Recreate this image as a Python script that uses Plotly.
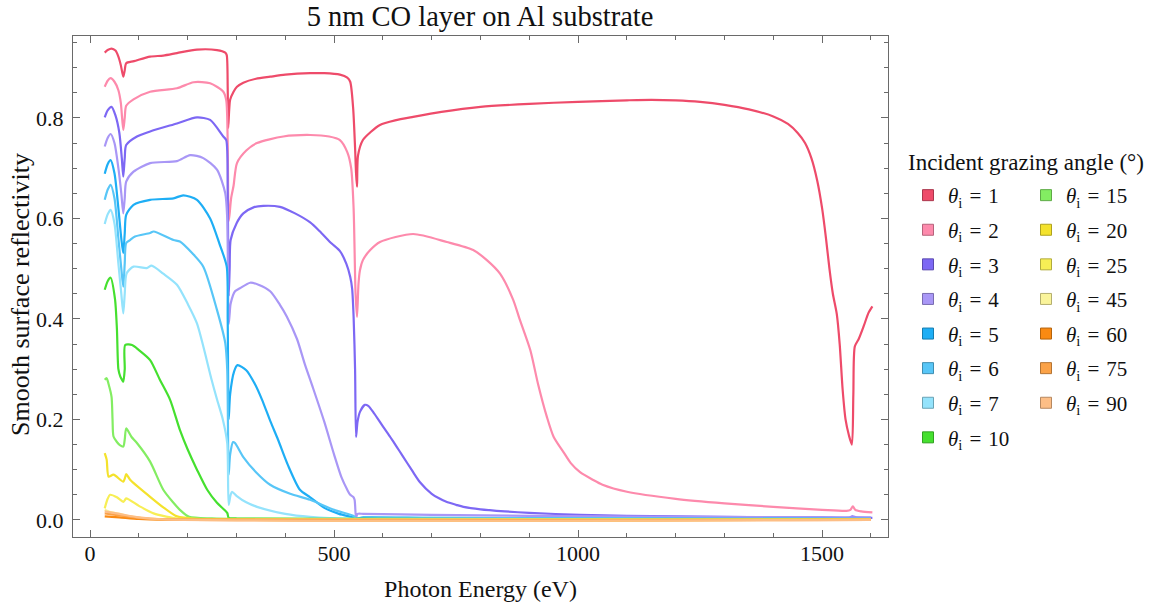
import plotly.graph_objects as go

# ---------------- data ----------------
angles = [1, 2, 3, 4, 5, 6, 7, 10, 15, 20, 25, 45, 60, 75, 90]
colors = ["#EE4B6A", "#FD8AAC", "#7D68F4", "#A997F6", "#1EAEF5", "#58C6F7", "#94E3FC",
          "#45E02F", "#83ED62", "#F4E22C", "#F7EE55", "#FAF49B", "#FA8A12", "#FBA247", "#FDBE86"]

E1 = [30, 36, 44, 52, 58, 63, 68, 71, 74, 90, 123, 150, 178, 219, 260, 277, 280, 282, 283, 285, 287,
      294, 301, 314, 340, 369, 400, 451, 480, 512, 527, 533, 539, 543, 545, 547, 549, 559, 575, 594,
      625, 662, 720, 800, 900, 1000, 1100, 1150, 1200, 1250, 1300, 1350, 1400, 1430, 1450, 1465, 1478,
      1490, 1500, 1508, 1515, 1522, 1530, 1536, 1542, 1548, 1555, 1561, 1564, 1567, 1575, 1585, 1595, 1603]
R1 = [0.930, 0.935, 0.938, 0.934, 0.922, 0.905, 0.882, 0.895, 0.909, 0.913, 0.922, 0.924, 0.929, 0.936,
      0.935, 0.930, 0.925, 0.860, 0.780, 0.815, 0.836, 0.852, 0.862, 0.870, 0.878, 0.882, 0.886, 0.889,
      0.889, 0.886, 0.880, 0.872, 0.820, 0.740, 0.690, 0.663, 0.725, 0.756, 0.772, 0.786, 0.795, 0.802,
      0.812, 0.822, 0.828, 0.832, 0.835, 0.836, 0.835, 0.832, 0.826, 0.817, 0.803, 0.788, 0.770, 0.750,
      0.720, 0.675, 0.620, 0.560, 0.500, 0.450, 0.410, 0.350, 0.260, 0.200, 0.168, 0.150, 0.250, 0.345,
      0.360, 0.385, 0.412, 0.425]

E2 = [30, 36, 42, 50, 58, 63, 68, 71, 74, 89, 123, 178, 212, 246, 273, 279, 282, 284, 286, 289, 294,
      301, 320, 342, 396, 451, 490, 512, 527, 535, 540, 544, 547, 550, 553, 559, 574, 594, 662, 731,
      785, 813, 840, 867, 880, 902, 918, 936, 950, 970, 985, 1004, 1030, 1050, 1100, 1200, 1300, 1400,
      1500, 1550, 1558, 1563, 1568, 1580, 1603]
R2 = [0.862, 0.874, 0.879, 0.872, 0.855, 0.830, 0.776, 0.800, 0.824, 0.837, 0.852, 0.859, 0.871, 0.869,
      0.852, 0.835, 0.750, 0.595, 0.610, 0.640, 0.665, 0.710, 0.735, 0.750, 0.763, 0.766, 0.763, 0.756,
      0.732, 0.700, 0.620, 0.450, 0.404, 0.470, 0.497, 0.517, 0.537, 0.553, 0.569, 0.553, 0.537, 0.517,
      0.490, 0.438, 0.400, 0.338, 0.270, 0.205, 0.165, 0.135, 0.113, 0.095, 0.080, 0.070, 0.056, 0.042,
      0.033, 0.026, 0.020, 0.018, 0.020, 0.027, 0.020, 0.017, 0.015]

E3 = [30, 36, 44, 52, 60, 65, 68, 71, 74, 96, 123, 178, 219, 246, 273, 279, 282, 284, 286, 288, 300,
      314, 335, 355, 389, 420, 451, 470, 495, 512, 525, 533, 537, 540, 543, 545, 548, 553, 563, 570,
      582, 600, 615, 628, 640, 660, 676, 700, 715, 730, 750, 765, 800, 850, 900, 1004, 1100, 1200, 1300,
      1400, 1500, 1555, 1562, 1570, 1603]
R3 = [0.801, 0.815, 0.822, 0.805, 0.770, 0.720, 0.683, 0.720, 0.746, 0.763, 0.773, 0.789, 0.801, 0.796,
      0.763, 0.756, 0.650, 0.445, 0.500, 0.557, 0.590, 0.610, 0.622, 0.625, 0.623, 0.610, 0.592, 0.575,
      0.550, 0.535, 0.510, 0.484, 0.460, 0.404, 0.300, 0.165, 0.195, 0.215, 0.229, 0.227, 0.212, 0.186,
      0.165, 0.146, 0.128, 0.098, 0.075, 0.052, 0.043, 0.036, 0.030, 0.026, 0.021, 0.017, 0.014, 0.010,
      0.008, 0.007, 0.006, 0.005, 0.005, 0.004, 0.007, 0.005, 0.004]

E4 = [30, 36, 42, 50, 58, 64, 68, 71, 74, 89, 123, 178, 205, 232, 260, 277, 281, 284, 286, 288, 297,
      307, 328, 345, 369, 389, 403, 424, 440, 457, 480, 500, 515, 527, 533, 539, 542, 545, 548, 560,
      700, 900, 1200, 1600]
R4 = [0.743, 0.760, 0.768, 0.750, 0.700, 0.650, 0.610, 0.640, 0.673, 0.693, 0.710, 0.714, 0.726, 0.720,
      0.697, 0.650, 0.600, 0.390, 0.410, 0.430, 0.455, 0.461, 0.472, 0.468, 0.455, 0.428, 0.405, 0.360,
      0.310, 0.262, 0.195, 0.130, 0.085, 0.060, 0.050, 0.046, 0.040, 0.004, 0.012, 0.012, 0.010, 0.008,
      0.006, 0.005]

E5 = [30, 36, 42, 50, 58, 64, 68, 71, 74, 89, 123, 171, 191, 219, 246, 265, 280, 282, 284, 287, 295,
      302, 320, 338, 352, 370, 385, 405, 430, 451, 480, 510, 540, 545, 560, 700, 1000, 1600]
R5 = [0.689, 0.708, 0.716, 0.690, 0.620, 0.560, 0.531, 0.570, 0.607, 0.627, 0.637, 0.640, 0.646, 0.637,
      0.600, 0.550, 0.504, 0.400, 0.200, 0.250, 0.295, 0.308, 0.298, 0.270, 0.240, 0.195, 0.160, 0.110,
      0.060, 0.045, 0.024, 0.012, 0.005, 0.003, 0.005, 0.004, 0.003, 0.002]

E6 = [30, 36, 42, 50, 58, 64, 68, 71, 74, 82, 92, 123, 130, 171, 184, 210, 232, 260, 277, 281, 284,
      287, 293, 297, 314, 340, 369, 410, 451, 500, 540, 545, 600, 1000, 1600]
R6 = [0.637, 0.657, 0.667, 0.640, 0.560, 0.500, 0.464, 0.510, 0.551, 0.557, 0.564, 0.571, 0.574, 0.557,
      0.554, 0.530, 0.504, 0.418, 0.352, 0.300, 0.090, 0.130, 0.155, 0.153, 0.125, 0.095, 0.070, 0.052,
      0.040, 0.020, 0.008, 0.003, 0.004, 0.003, 0.002]

E7 = [30, 36, 42, 50, 58, 64, 68, 71, 75, 89, 116, 126, 150, 178, 200, 219, 249, 260, 272, 281, 284,
      288, 291, 300, 320, 342, 400, 451, 545, 1600]
R7 = [0.589, 0.608, 0.617, 0.590, 0.510, 0.450, 0.411, 0.450, 0.491, 0.504, 0.501, 0.506, 0.490, 0.468,
      0.430, 0.391, 0.279, 0.240, 0.200, 0.153, 0.030, 0.050, 0.056, 0.048, 0.035, 0.026, 0.012, 0.006,
      0.002, 0.001]

E10 = [30, 36, 42, 51, 55, 58, 62, 66, 68, 71, 72, 86, 100, 123, 143, 164, 184, 200, 219, 240, 260,
       281, 284, 300, 600, 1600]
R10 = [0.458, 0.475, 0.482, 0.440, 0.380, 0.300, 0.285, 0.278, 0.275, 0.300, 0.348, 0.348, 0.338, 0.318,
       0.279, 0.239, 0.179, 0.140, 0.100, 0.060, 0.034, 0.014, 0.004, 0.003, 0.002, 0.001]

E15 = [30, 34, 38, 44, 46, 48, 55, 61, 68, 71, 74, 85, 96, 123, 150, 170, 184, 203, 250, 300, 1600]
R15 = [0.279, 0.282, 0.270, 0.245, 0.200, 0.166, 0.155, 0.149, 0.146, 0.160, 0.182, 0.165, 0.153, 0.116,
       0.060, 0.035, 0.020, 0.006, 0.003, 0.002, 0.001]

E20 = [30, 34, 38, 48, 68, 71, 74, 82, 123, 150, 178, 220, 1600]
R20 = [0.133, 0.120, 0.086, 0.090, 0.076, 0.082, 0.091, 0.080, 0.046, 0.025, 0.007, 0.002, 0.001]

E25 = [30, 36, 41, 55, 68, 71, 74, 100, 130, 184, 250, 1600]
R25 = [0.023, 0.042, 0.050, 0.045, 0.036, 0.039, 0.043, 0.028, 0.013, 0.002, 0.001, 0.0005]

E45 = [30, 40, 60, 80, 110, 150, 1600]
R45 = [0.020, 0.016, 0.012, 0.007, 0.003, 0.001, 0.0]

E60 = [30, 60, 100, 150, 1600]
R60 = [0.007, 0.005, 0.002, 0.0005, 0.0]

E75 = [30, 60, 100, 150, 1600]
R75 = [0.013, 0.009, 0.004, 0.001, 0.0]

E90 = [30, 60, 100, 150, 1600]
R90 = [0.017, 0.012, 0.005, 0.001, 0.0]

energies = [E1, E2, E3, E4, E5, E6, E7, E10, E15, E20, E25, E45, E60, E75, E90]
reflect = [R1, R2, R3, R4, R5, R6, R7, R10, R15, R20, R25, R45, R60, R75, R90]

x_ticks = [0, 500, 1000, 1500]
y_ticks = [0.0, 0.2, 0.4, 0.6, 0.8]

# ---------------- styling ----------------
FONT = "Liberation Serif"
FRAME = "#6a6a6a"


def darken(hex_color, f=0.72):
    h = hex_color.lstrip("#")
    r, g, b = (int(h[i:i + 2], 16) for i in (0, 2, 4))
    return "#%02x%02x%02x" % (int(r * f), int(g * f), int(b * f))


fig = go.Figure()
for E, R, c in zip(energies, reflect, colors):
    fig.add_trace(go.Scatter(x=E, y=R, mode="lines",
                             line=dict(color=c, width=2.2, shape="spline", smoothing=0.7),
                             showlegend=False, hoverinfo="skip"))

for i, (a, c) in enumerate(zip(angles, colors)):
    fig.add_trace(go.Scatter(
        x=[None], y=[None], mode="markers",
        marker=dict(symbol="square", size=11, color=c, line=dict(color=darken(c), width=1)),
        name=f"<i>θ</i><sub>i</sub> \u200a=\u200a {a}",
        legend="legend" if i < 8 else "legend2",
        legendgroup=f"g{a}", showlegend=True))

W, H = 1155, 611
L, R_, T, B = 73, 267, 36, 74
pw, ph = W - L - R_, H - T - B


def px_x(px):
    return (px - L) / pw


def px_y(py):
    return (H - B - py) / ph


legend_common = dict(font=dict(family=FONT, size=21, color="#111"), bgcolor="rgba(0,0,0,0)",
                     tracegroupgap=4.3, itemwidth=30, yanchor="top", xanchor="left",
                     itemclick=False, itemdoubleclick=False)

fig.update_layout(
    width=W, height=H,
    margin=dict(l=L, r=R_, t=T, b=B),
    paper_bgcolor="white", plot_bgcolor="white",
    title=dict(text="5 nm CO layer on Al substrate", x=px_x(480), xref="paper", xanchor="center",
               y=1 - 16 / H, yanchor="middle", yref="container",
               font=dict(family=FONT, size=28.5, color="#111")),
    legend=dict(x=px_x(908), y=px_y(175), **legend_common),
    legend2=dict(x=px_x(1026), y=px_y(175), **legend_common),
    annotations=[
        dict(text="Incident grazing angle (°)", x=px_x(906), y=px_y(162), xref="paper",
             yref="paper", xanchor="left", yanchor="middle", showarrow=False,
             font=dict(family=FONT, size=23, color="#111")),
        dict(text="Smooth surface reflectivity", x=px_x(20), y=px_y(295), xref="paper",
             yref="paper", xanchor="center", yanchor="middle", showarrow=False, textangle=-90,
             font=dict(family=FONT, size=26, color="#111")),
    ],
    xaxis=dict(range=[-35, 1635], tickvals=x_ticks, ticks="inside", ticklen=7, tickwidth=1,
               tickcolor=FRAME, showline=True, linecolor=FRAME, linewidth=1, mirror="allticks",
               showgrid=False, zeroline=False, ticklabelstandoff=-3,
               minor=dict(ticks="inside", ticklen=4, dtick=100, tick0=0, tickcolor=FRAME, showgrid=False),
               tickfont=dict(family=FONT, size=22, color="#111"),
               title=dict(text="Photon Energy (eV)", font=dict(family=FONT, size=24, color="#111"),
                          standoff=14)),
    yaxis=dict(range=[-0.034, 0.963], tickvals=y_ticks, tickformat=".1f", ticks="inside", ticklen=7,
               tickwidth=1, tickcolor=FRAME, showline=True, linecolor=FRAME, linewidth=1,
               mirror="allticks", showgrid=False, zeroline=False,
               minor=dict(ticks="inside", ticklen=4, dtick=0.05, tick0=0, tickcolor=FRAME, showgrid=False),
               tickfont=dict(family=FONT, size=22, color="#111"), ticklabelstandoff=4),
)

fig.write_html("out.html")
